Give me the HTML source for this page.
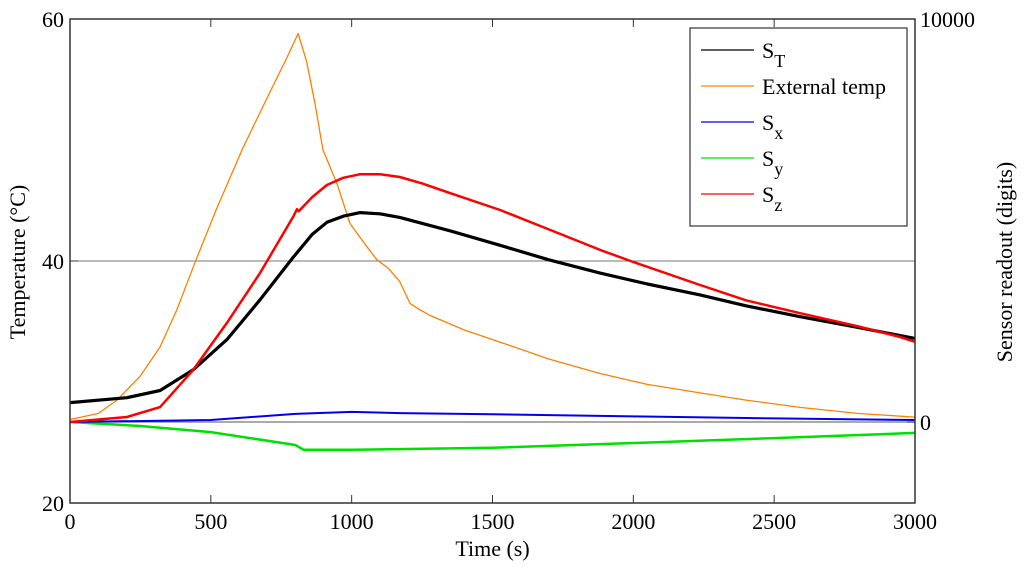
<!DOCTYPE html>
<html><head><meta charset="utf-8"><style>
body{margin:0;background:#fff}
svg{display:block;font-family:"Liberation Serif",serif}
</style></head><body>
<svg id="c" width="1024" height="571">
<g id="g"></g>
</svg>
<script>
const tExt=[0,100,167,250,320,380,444,520,611,700,770,810,840,870,898,948,994,1050,1090,1130,1171,1207,1240,1278,1400,1527,1700,1882,2050,2237,2400,2592,2800,3000];
const vExt=[26.9,27.4,28.5,30.5,32.9,36,39.9,44.3,49.2,53.5,56.8,58.8,56.5,53,49.2,46.4,43.1,41.3,40.1,39.4,38.3,36.5,36,35.5,34.3,33.3,31.9,30.7,29.8,29.1,28.5,27.9,27.4,27.1];
const tST=[0,202,320,437,557,675,792,860,912,970,1030,1100,1171,1349,1527,1700,1882,2050,2237,2400,2592,2800,3000];
const vST=[28.3,28.7,29.3,31,33.5,36.8,40.3,42.2,43.2,43.7,44,43.9,43.6,42.5,41.3,40.1,39,38.1,37.2,36.3,35.4,34.5,33.6];
const tSz=[0,202,320,437,557,675,792,806,812,860,912,970,1030,1100,1171,1250,1349,1527,1700,1882,2000,2237,2400,2592,2800,2947,3000];
const vSz=[0,125,370,1290,2460,3700,5090,5280,5230,5580,5880,6060,6150,6150,6080,5920,5680,5260,4780,4270,3970,3400,3020,2700,2370,2110,1990];
const tSx=[0,500,800,1000,1171,1500,2000,2500,3000];
const vSx=[0,50,200,250,220,190,140,90,50];
const tSy=[0,250,500,800,830,1000,1500,2000,2500,3000];
const vSy=[0,-100,-250,-570,-690,-690,-640,-520,-400,-270];
const xTicks=[0,500,1000,1500,2000,2500,3000];
const yTicks=[20,40,60];
const rTicks=[0,10000];
const L=70,R=915,T=19,B=503;
const X=t=>L+t/3000*(R-L);
const YL=v=>B-(v-20)/40*(B-T);
const YR=v=>422-v*(422-T)/10000;
const g=document.getElementById('g');
const NS='http://www.w3.org/2000/svg';
function mk(tag,at,txt){const e=document.createElementNS(NS,tag);for(const k in at)e.setAttribute(k,at[k]);if(txt!=null)e.textContent=txt;g.appendChild(e);return e;}
let e;
e=mk('line',{x1:L,x2:R,y1:YL(40),y2:YL(40),stroke:'#777','stroke-width':1});


e=mk('line',{x1:L,x2:R,y1:YR(0),y2:YR(0),stroke:'#777','stroke-width':1.2});


function series(ts,vs,yf,col,w,name){
 const d=ts.map((t,i)=>(i?'L':'M')+X(t).toFixed(1)+','+yf(vs[i]).toFixed(1)).join('');
 const p=mk('path',{d:d,fill:'none',stroke:col,'stroke-width':w,'stroke-linejoin':'round'});
 
 
}
series(tSy,vSy,YR,'#00e000',2.5,'series-sy');
series(tSx,vSx,YR,'#0000ee',2,'series-sx');
series(tExt,vExt,YL,'#ff8000',1.3,'series-external-temp');
series(tST,vST,YL,'#000',3.2,'series-st');
series(tSz,vSz,YR,'#ff0000',2.5,'series-sz');
e=mk('rect',{x:L,y:T,width:R-L,height:B-T,fill:'none',stroke:'#333','stroke-width':1.5});


xTicks.forEach(t=>{
 mk('line',{x1:X(t),x2:X(t),y1:B,y2:B-8,stroke:'#333'});
 mk('line',{x1:X(t),x2:X(t),y1:T,y2:T+8,stroke:'#333'});
 const l=mk('text',{x:X(t),y:B+26,'text-anchor':'middle','font-size':22},t);
 
 
});
yTicks.forEach(v=>{
 mk('line',{x1:L,x2:L+8,y1:YL(v),y2:YL(v),stroke:'#333'});
 const l=mk('text',{x:L-6,y:YL(v)+8,'text-anchor':'end','font-size':22},v);
 
 
});
rTicks.forEach(v=>{
 mk('line',{x1:R,x2:R-8,y1:YR(v),y2:YR(v),stroke:'#333'});
 const l=mk('text',{x:R+5,y:YR(v)+8,'font-size':22},v);
 
 
});
e=mk('text',{x:(L+R)/2,y:556,'text-anchor':'middle','font-size':22},'Time (s)');


e=mk('text',{x:0,y:0,'text-anchor':'middle','font-size':22,transform:'translate(25,262) rotate(-90)'},'Temperature (°C)');


e=mk('text',{x:0,y:0,'text-anchor':'middle','font-size':22,transform:'translate(1012,262) rotate(-90)'},'Sensor readout (digits)');


e=mk('rect',{x:690,y:28,width:217,height:198,fill:'#fff',stroke:'#333','stroke-width':1.2});


const legNames=['S','External temp','S','S','S'];
const legSubs=['T','','x','y','z'];
const legCols=['#000','#ff8000','#0000ee','#00e000','#ff0000'];
legNames.forEach((n,i)=>{
 const y=50+i*36;
 const ln=mk('line',{x1:701,x2:754,y1:y,y2:y,stroke:legCols[i],'stroke-width':1.3});
 
 
 const t=mk('text',{x:762,y:y+8,'font-size':22},n);
 
 
 if(legSubs[i]){const s=document.createElementNS(NS,'tspan');s.setAttribute('dy','9');s.setAttribute('font-size','18');s.textContent=legSubs[i];t.appendChild(s);}
});
</script>
</body></html>
